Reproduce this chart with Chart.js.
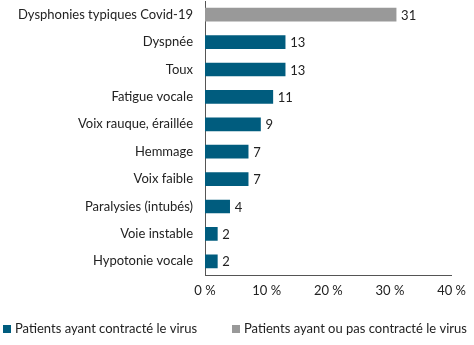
<!DOCTYPE html>
<html>
<head>
<meta charset="utf-8">
<script src="https://cdn.jsdelivr.net/npm/chart.js@4/dist/chart.umd.min.js"></script>
<style>
  html, body { margin: 0; padding: 0; background: #fff; }
  #wrap { width: 474px; height: 345px; position: relative; }
</style>
</head>
<body>
<div id="wrap"><canvas id="chart"></canvas></div>
<script>
// categories, top to bottom
const categories = [
  "Dysphonies typiques Covid-19",
  "Dyspnée",
  "Toux",
  "Fatigue vocale",
  "Voix rauque, éraillée",
  "Hemmage",
  "Voix faible",
  "Paralysies (intubés)",
  "Voie instable",
  "Hypotonie vocale",
];
// % values
const contracted = [null, 13, 13, 11, 9, 7, 7, 4, 2, 2];
const allPatients = [31, null, null, null, null, null, null, null, null, null];
const seriesNames = ["Patients ayant contracté le virus", "Patients ayant ou pas contracté le virus"];
const xTicks = [0, 10, 20, 30, 40];

const FONT = "Lato, sans-serif";

//draws the value at the end of each bar
const valueLabels = {
  id: "valueLabels",
  afterDatasetsDraw(chart) {
    const ctx = chart.ctx;
    ctx.save();
    ctx.font = "13px " + FONT;
    ctx.fillStyle = "#222";
    ctx.textBaseline = "middle";
    chart.data.datasets.forEach((ds, i) => {
      chart.getDatasetMeta(i).data.forEach((bar, j) => {
        if (ds.data[j] == null) return;
        ctx.fillText(ds.data[j], bar.x + 5, bar.y + 1);
      });
    });
    ctx.restore();
  },
};

// legend on one line under the axis (the built-in one wraps)
const bottomLegend = {
  id: "bottomLegend",
  afterDraw(chart) {
    const ctx = chart.ctx;
    const xs = [3, 232];
    const y = 329;
    ctx.save();
    ctx.font = "13px " + FONT;
    ctx.textBaseline = "middle";
    chart.data.datasets.forEach((ds, i) => {
      ctx.fillStyle = ds.backgroundColor;
      ctx.fillRect(xs[i], y - 4, 8, 8);
      ctx.fillStyle = "#222";
      ctx.fillText(ds.label, xs[i] + 12, y);
    });
    ctx.restore();
  },
};

new Chart(document.getElementById("chart"), {
  type: "bar",
  plugins: [valueLabels, bottomLegend],
  data: {
    labels: categories,
    datasets: [
      { label: seriesNames[0], data: contracted, backgroundColor: "#005c7e", barThickness: 13 },
      { label: seriesNames[1], data: allPatients, backgroundColor: "#999999", barThickness: 13 },
    ],
  },
  options: {
    indexAxis: "y",
    responsive: true,
    maintainAspectRatio: false,
    animation: false,
    layout: { padding: { top: 1, right: 0, left: 0, bottom: 45 } },
    scales: {
      x: {
        stacked: true,
        min: 0,
        max: 40,
        afterBuildTicks: (axis) => { axis.ticks = xTicks.map((v) => ({ value: v })); },
        afterFit: (axis) => { axis.height = 25; },
        grid: { display: false, drawTicks: false },
        border: { display: true, color: "#555", width: 1 },
        ticks: {
          padding: 8,
          color: "#222",
          font: { family: FONT, size: 13 },
          callback: (v) => v + " %",
        },
      },
      y: {
        stacked: true,
        afterFit: (axis) => {
          axis.width = 205;
          axis.paddingTop = 0;
          axis.paddingBottom = 0;
        },
        grid: { display: false, drawTicks: false },
        border: { display: true, color: "#555", width: 1 },
        ticks: {
          padding: 12,
          color: "#222",
          font: { family: FONT, size: 13 },
        },
      },
    },
    plugins: {
      tooltip: { enabled: false },
      legend: { display: false },
    },
  },
});
</script>
</body>
</html>
